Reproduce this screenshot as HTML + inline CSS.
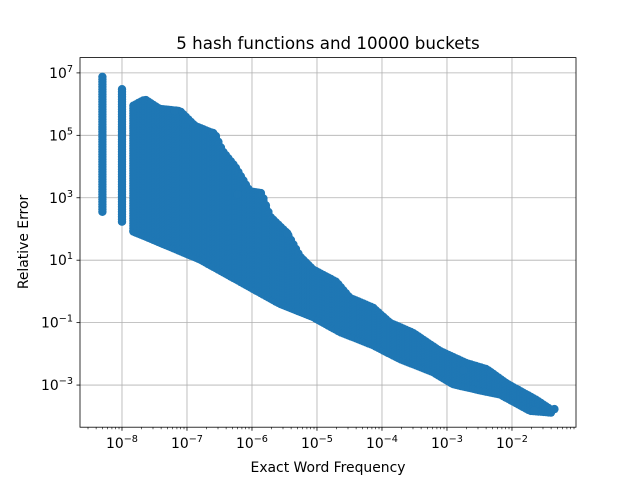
<!DOCTYPE html>
<html><head><meta charset="utf-8"><style>
body{margin:0;background:#fff;}
svg text{font-family:"DejaVu Sans","Liberation Sans",sans-serif;fill:#000;}
</style></head><body>
<svg id="chart" width="640" height="480" viewBox="0 0 640 480" xmlns="http://www.w3.org/2000/svg">
<rect width="640" height="480" fill="#fff"/>
<g id="grid"></g>
<g id="marks"></g>
<g id="axes"></g>
<text x="328" y="49" font-size="16.7" text-anchor="middle">5 hash functions and 10000 buckets</text>
<text x="328" y="472" font-size="13.9" text-anchor="middle">Exact Word Frequency</text>
<text transform="translate(28,242) rotate(-90)" font-size="13.9" text-anchor="middle">Relative Error</text>
</svg>
<script>
// discrete low-count columns
const columnFreqs = [5e-9, 1e-8];
const columnErrHigh = [7.5e6, 3e6];
const columnErrLow = [300, 160];
// main band envelopes
const upperFreqs = [1.5e-8,2.26e-8,3.8e-8,7.8e-8,1.33e-7,2.7e-7,3.5e-7,5.5e-7,9.3e-7,1.4e-6,1.9e-6,3.5e-6,5.5e-6,8.7e-6,2e-5,3.2e-5,7.3e-5,1.33e-4,3e-4,7.8e-4,2e-3,4.1e-3,8.4e-3,2.4e-2,4.2e-2];
const upperErrs = [8.9e5,1.4e6,7e5,6e5,2e5,1.1e5,3.2e4,1e4,1.6e3,1.4e3,250,72,13,5,2,0.62,0.3,0.098,0.047,0.0123,0.005,0.0032,0.0011,3.3e-4,1.5e-4];
const lowerFreqs = [1.5e-8,1.6e-7,2.7e-6,8.7e-6,2.26e-5,7.3e-5,1.9e-4,6.1e-4,1.24e-3,3.2e-3,6.6e-3,1.9e-2,4.2e-2];
const lowerErrs = [83,10.5,0.4,0.152,0.05,0.019,6.8e-3,2.6e-3,1.07e-3,6.8e-4,5e-4,1.5e-4,1.3e-4];
// isolated outliers
const outlierFreqs = [3.5e-6,2.5e-7,6e-7,6.5e-8,1.8e-3,2.2e-2,4.5e-2];
const outlierErrs = [72,1.2e5,1.3e3,6e5,0.003,1.5e-4,1.7e-4];
const xTickExps = [-8,-7,-6,-5,-4,-3,-2];
const yTickExps = [7,5,3,1,-1,-3];

const L=80,R=576,T=57.6,B=427.2;
const xMin=-8.646,xMax=-1.015,yMin=-4.35,yMax=7.49;
const X=f=>L+(Math.log10(f)-xMin)/(xMax-xMin)*(R-L);
const Y=e=>B-(Math.log10(e)-yMin)/(yMax-yMin)*(B-T);
const NS='http://www.w3.org/2000/svg';
function mk(tag,attrs,parent){const el=document.createElementNS(NS,tag);for(const k in attrs)el.setAttribute(k,attrs[k]);parent.appendChild(el);return el;}
const grid=document.getElementById('grid'),marks=document.getElementById('marks'),axes=document.getElementById('axes');
const col='#1f77b4';
function dot(x,y){const c=mk('circle',{cx:x.toFixed(1),cy:y.toFixed(1),r:4.2,fill:col},marks);

}
// grid
xTickExps.forEach(e=>{const x=X(Math.pow(10,e));const g=mk('line',{x1:x,x2:x,y1:T,y2:B,stroke:'#b0b0b0','stroke-width':0.8},grid);
});
yTickExps.forEach(e=>{const y=Y(Math.pow(10,e));const g=mk('line',{x1:L,x2:R,y1:y,y2:y,stroke:'#b0b0b0','stroke-width':0.8},grid);
});
// columns
columnFreqs.forEach((f,i)=>{const x=X(f);for(let y=Y(columnErrHigh[i]);y<=Y(columnErrLow[i]);y+=2.5)dot(x,y);});
// band
function interp(fs,es,lx){const xs=fs.map(f=>Math.log10(f));if(lx<=xs[0])return Math.log10(es[0]);
for(let i=1;i<xs.length;i++){if(lx<=xs[i]){const t=(lx-xs[i-1])/(xs[i]-xs[i-1]);return Math.log10(es[i-1])+t*(Math.log10(es[i])-Math.log10(es[i-1]));}}return Math.log10(es[es.length-1]);}
const x0=X(upperFreqs[0]),x1=X(upperFreqs[upperFreqs.length-1]);
for(let x=x0;x<=x1;x+=2.5){const lf=xMin+(x-L)/(R-L)*(xMax-xMin);
const yt=Y(Math.pow(10,interp(upperFreqs,upperErrs,lf))),yb=Y(Math.pow(10,interp(lowerFreqs,lowerErrs,lf)));
for(let y=yt;y<=yb;y+=2.5)dot(x,y);dot(x,yb);}
outlierFreqs.forEach((f,i)=>dot(X(f),Y(outlierErrs[i])));
// axes frame
const fr=mk('rect',{x:L,y:T,width:R-L,height:B-T,fill:'none',stroke:'#000','stroke-width':0.8},axes);

// x ticks
for(let e=-9;e<=-1;e++){for(let m=1;m<10;m++){const f=m*Math.pow(10,e);const x=X(f);if(x<L||x>R)continue;const len=m===1?3.5:2;
const t=mk('line',{x1:x,x2:x,y1:B,y2:B+len,stroke:'#000','stroke-width':m===1?0.8:0.6},axes);
}}
xTickExps.forEach(e=>{const x=X(Math.pow(10,e));const t=mk('text',{x:x,y:B+21,'font-size':13.9,'text-anchor':'middle'},axes);

t.innerHTML='10<tspan dy="-6" font-size="9.7">\u2212'+Math.abs(e)+'</tspan>';});
yTickExps.forEach(e=>{const y=Y(Math.pow(10,e));const t=mk('line',{x1:L-3.5,x2:L,y1:y,y2:y,stroke:'#000','stroke-width':0.8},axes);

const lb=mk('text',{x:L-7,y:y+5,'font-size':13.9,'text-anchor':'end'},axes);

lb.innerHTML='10<tspan dy="-6" font-size="9.7">'+(e<0?'\u2212':'')+Math.abs(e)+'</tspan>';});
</script>
</body></html>
